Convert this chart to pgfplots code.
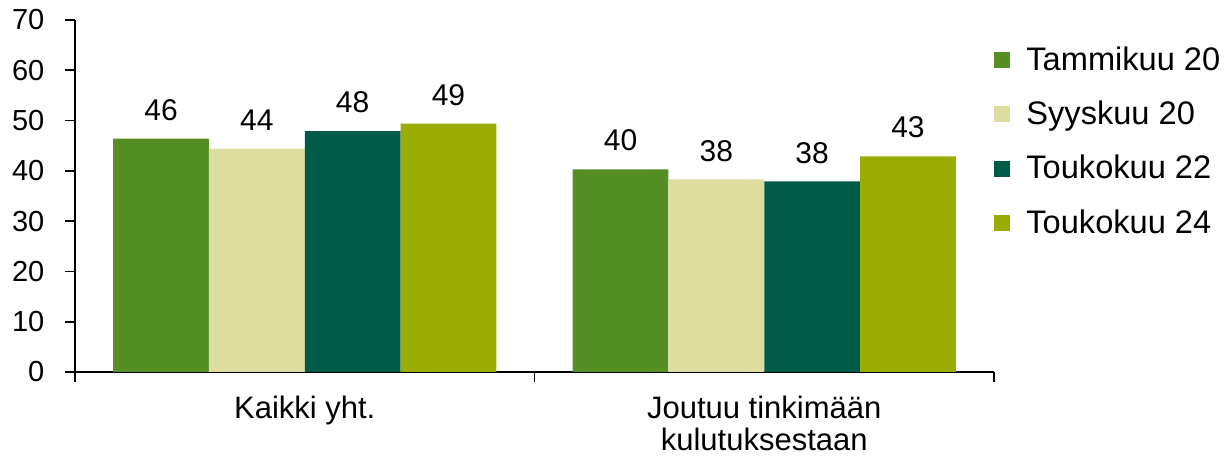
\documentclass[border=0pt]{standalone}
\usepackage{fontspec}
\setmainfont{Liberation Sans}
\usepackage{pgfplots}
\pgfplotsset{compat=1.18}
\definecolor{cA}{HTML}{558E23}
\definecolor{cB}{HTML}{DDDDA0}
\definecolor{cC}{HTML}{005C48}
\definecolor{cD}{HTML}{9BAC00}
\newcommand{\lf}{\fontsize{16.3}{18}\selectfont}
\begin{document}
\begin{tikzpicture}
\useasboundingbox (-37.5pt,-43.5pt) rectangle (575.5pt,186pt);
\begin{axis}[
  at={(0pt,0pt)}, anchor=south west,
  width=459.5pt, height=176pt, scale only axis,
  ybar=0pt, bar width=47.9pt,
  xmin=-0.5, xmax=1.5, ymin=0, ymax=70,
  separate axis lines,
  axis x line*=bottom, axis y line*=left,
  axis line style={-, line width=0.9pt, black},
  every tick/.style={line width=0.9pt, black},
  tick align=outside, major tick length=4.8pt,
  ytick={0,10,...,70},
  yticklabel style={font=\fontsize{14.5}{16}\selectfont, xshift=-7pt},
  /pgf/number format/assume math mode=true,
  xtick={-0.5,0.5,1.5}, xticklabels={},
  extra x ticks={0,1},
  extra x tick labels={Kaikki yht., {Joutuu tinkimään\\kulutuksestaan}},
  extra x tick style={major tick length=0pt, xticklabel style={align=center, font=\fontsize{15.5}{16}\selectfont, yshift=-8.5pt}},
  nodes near coords={\pgfmathprintnumber[fixed,precision=0]{\pgfplotspointmeta}},
  every node near coord/.append style={font=\fontsize{15}{16}\selectfont, yshift=5.5pt, black},
  legend style={at={(1.0,0.655)}, anchor=west, draw=none, fill=none,
    row sep=9.8pt, inner sep=0pt,
    cells={anchor=west},
    /tikz/every odd column/.append style={column sep=6pt}},
  legend image code/.code={\fill[#1] (0pt,-4pt) rectangle (8pt,4pt);},
]
\addplot[fill=cA, draw=none] coordinates {(0,46.4) (1,40.3)};
\addplot[fill=cB, draw=none] coordinates {(0,44.4) (1,38.3)};
\addplot[fill=cC, draw=none] coordinates {(0,47.9) (1,37.9)};
\addplot[fill=cD, draw=none] coordinates {(0,49.4) (1,42.9)};
\legend{{\lf Tammikuu 20}, {\lf Syyskuu 20}, {\lf Toukokuu 22}, {\lf Toukokuu 24}}
\end{axis}
\end{tikzpicture}
\end{document}
